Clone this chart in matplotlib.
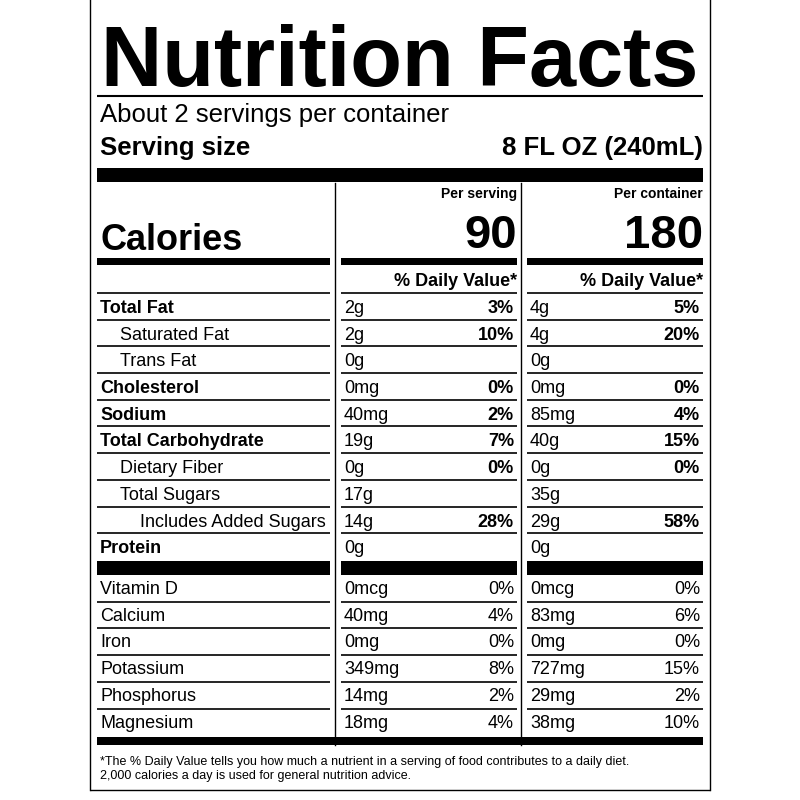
import matplotlib
matplotlib.use("Agg")
import matplotlib.pyplot as plt

nutrients = ["Total Fat", "Saturated Fat", "Trans Fat", "Cholesterol", "Sodium",
             "Total Carbohydrate", "Dietary Fiber", "Total Sugars", "Includes Added Sugars", "Protein"]
indent = [0, 1, 1, 0, 0, 0, 1, 1, 2, 0]
bold = [True, False, False, True, True, True, False, False, False, True]
serv_amt = ["2g", "2g", "0g", "0mg", "40mg", "19g", "0g", "17g", "14g", "0g"]
serv_dv = ["3%", "10%", "", "0%", "2%", "7%", "0%", "", "28%", ""]
cont_amt = ["4g", "4g", "0g", "0mg", "85mg", "40g", "0g", "35g", "29g", "0g"]
cont_dv = ["5%", "20%", "", "0%", "4%", "15%", "0%", "", "58%", ""]
vitamins = ["Vitamin D", "Calcium", "Iron", "Potassium", "Phosphorus", "Magnesium"]
vit_serv_amt = ["0mcg", "40mg", "0mg", "349mg", "14mg", "18mg"]
vit_serv_dv = ["0%", "4%", "0%", "8%", "2%", "4%"]
vit_cont_amt = ["0mcg", "83mg", "0mg", "727mg", "29mg", "38mg"]
vit_cont_dv = ["0%", "6%", "0%", "15%", "2%", "10%"]

plt.rcParams['font.family'] = ['Liberation Sans', 'DejaVu Sans']
fig = plt.figure(figsize=(8, 8), dpi=100)
ax = fig.add_axes([0, 0, 1, 1])
ax.set_xlim(0, 800); ax.set_ylim(800, 0); ax.axis('off')

L, R = 100, 703
C1a, C1b = 341, 517
C2a, C2b = 527, 703

def hl(y, x0, x1, lw=1.2):
    ax.plot([x0, x1], [y, y], color='black', lw=lw, solid_capstyle='butt')

def bar(y0, y1, x0, x1):
    ax.fill_between([x0, x1], [y0, y0], [y1, y1], color='black', lw=0)

def t(x, y, s, size, bold=False, ha='left'):
    ax.text(x, y, s, fontsize=size, fontweight='bold' if bold else 'normal',
            ha=ha, va='baseline')

# border
ax.plot([90, 90], [0, 790], color='black', lw=1)
ax.plot([710, 710], [0, 790], color='black', lw=1)
hl(790, 90, 710, 1)

t(400, 86, "Nutrition Facts", 61, True, 'center')
hl(96, L - 3, R, 1.5)
t(L, 122, "About 2 servings per container", 18.5)
t(L, 155, "Serving size", 18.5, True)
t(R, 155, "8 FL OZ (240mL)", 18.5, True, 'right')
bar(168, 182, L - 3, R)

ax.plot([335, 335], [183, 745], color='black', lw=1)
ax.plot([521, 521], [183, 745], color='black', lw=1)

t(C1b, 198, "Per serving", 10, True, 'right')
t(C2b, 198, "Per container", 10, True, 'right')
t(C1b, 248, "90", 34, True, 'right')
t(C2b, 248, "180", 34, True, 'right')
t(L, 250, "Calories", 26, True)
bar(258, 265, L - 3, 330); bar(258, 265, C1a, C1b); bar(258, 265, C2a, C2b)
t(C1b, 286, "% Daily Value*", 13, True, 'right')
t(C2b, 286, "% Daily Value*", 13, True, 'right')

step = 26.7
y = 293
for i, n in enumerate(nutrients):
    hl(y, L - 3, 330); hl(y, C1a, C1b); hl(y, C2a, C2b)
    yb = y + 20
    t(L + 20 * indent[i], yb, n, 13, bold[i])
    t(C1a + 3, yb, serv_amt[i], 13)
    t(C1b - 3, yb, serv_dv[i], 13, True, 'right')
    t(C2a + 3, yb, cont_amt[i], 13)
    t(C2b - 3, yb, cont_dv[i], 13, True, 'right')
    y += step
bar(y + 1, y + 15, L - 3, 330); bar(y + 1, y + 15, C1a, C1b); bar(y + 1, y + 15, C2a, C2b)
y += 15
for i, n in enumerate(vitamins):
    if i > 0:
        hl(y, L - 3, 330); hl(y, C1a, C1b); hl(y, C2a, C2b)
    yb = y + 19
    t(L, yb, n, 13)
    t(C1a + 3, yb, vit_serv_amt[i], 13)
    t(C1b - 3, yb, vit_serv_dv[i], 13, False, 'right')
    t(C2a + 3, yb, vit_cont_amt[i], 13)
    t(C2b - 3, yb, vit_cont_dv[i], 13, False, 'right')
    y += step
bar(737, 745, L - 3, R)
t(L, 765, "*The % Daily Value tells you how much a nutrient in a serving of food contributes to a daily diet.", 9)
t(L, 779, "2,000 calories a day is used for general nutrition advice.", 9)

fig.savefig("out.png", dpi=100)
